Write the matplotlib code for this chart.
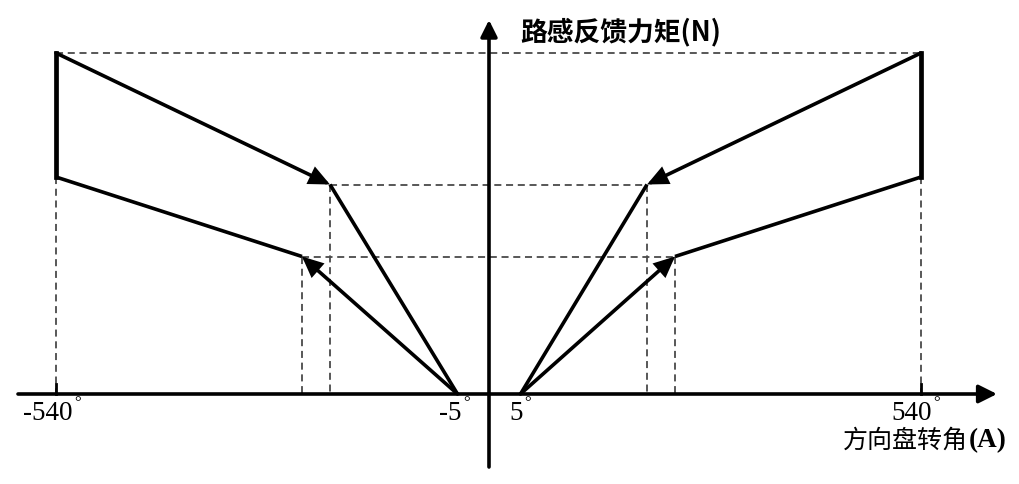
import matplotlib
matplotlib.use("Agg")
import matplotlib.pyplot as plt

# ---- schematic data (units: chart units measured from the origin) ----
tick_pos = [-433, -31.5, 31.5, 432]
tick_labels = ["-540", "-5", "5", "540"]

left_upper_x = [-433, -159, -31.5]
left_upper_y = [341, 209.5, 0]
left_lower_x = [-433, -187, -31.5]
left_lower_y = [217, 137.5, 0]

right_upper_x = [432, 158, 31.5]
right_upper_y = [341, 209.5, 0]
right_lower_x = [432, 186, 31.5]
right_lower_y = [217, 137.5, 0]

y_title = "路感反馈力矩(N)"
x_title_cjk = "方向盘转角"
x_title_unit = "(A)"

# ---- figure ----
fig = plt.figure(figsize=(10.19, 4.84), dpi=100)
ax = fig.add_axes([0, 0, 1, 1])
ax.set_xlim(-489, 530)
ax.set_ylim(-90, 394)
ax.axis("off")

LW = 2.6
DASH = dict(color="#4a4a4a", lw=1.3, linestyle=(0, (3.9, 2.6)), zorder=1)
ARROW = dict(arrowstyle="-|>,head_length=1.1,head_width=0.5", lw=LW,
             color="black", shrinkA=0, shrinkB=0, joinstyle="miter")

# axes with arrows
ax.annotate("", xy=(508, 0), xytext=(-471, 0),
            arrowprops=dict(arrowstyle="-|>,head_length=1.1,head_width=0.55",
                            lw=LW, color="black", shrinkA=0, shrinkB=0))
ax.annotate("", xy=(0, 374), xytext=(0, -73),
            arrowprops=dict(arrowstyle="-|>,head_length=1.0,head_width=0.5",
                            lw=LW, color="black", shrinkA=0, shrinkB=0))

# dashed guide lines
ax.plot([left_upper_x[0], right_upper_x[0]], [left_upper_y[0], right_upper_y[0]], **DASH)
ax.plot([left_upper_x[1], right_upper_x[1]], [left_upper_y[1], right_upper_y[1]], **DASH)
ax.plot([left_lower_x[1], right_lower_x[1]], [left_lower_y[1], right_lower_y[1]], **DASH)
for xs, ys in [(left_upper_x, left_upper_y), (left_lower_x, left_lower_y),
               (right_upper_x, right_upper_y), (right_lower_x, right_lower_y)]:
    ax.plot([xs[1], xs[1]], [ys[1], 0], **DASH)
for xs, ys in [(left_lower_x, left_lower_y), (right_lower_x, right_lower_y)]:
    ax.plot([xs[0], xs[0]], [ys[0], 0], **DASH)
    ax.plot([xs[0], xs[0]], [10, 0], color="black", lw=2.0, zorder=2)

# solid vertical ends
for ux, uy, lx, ly in [(left_upper_x, left_upper_y, left_lower_x, left_lower_y),
                       (right_upper_x, right_upper_y, right_lower_x, right_lower_y)]:
    ax.plot([ux[0], lx[0]], [uy[0], ly[0]], color="black", lw=LW + 0.8,
            solid_capstyle="projecting", zorder=3)
    # upper path: arrow into the knee, then line to dead zone
    ax.annotate("", xy=(ux[1], uy[1]), xytext=(ux[0], uy[0]), arrowprops=ARROW)
    ax.plot([ux[1], ux[2]], [uy[1], uy[2]], color="black", lw=LW,
            solid_capstyle="butt", zorder=3)
    # lower path: line from end to knee, arrow from dead zone into knee
    ax.plot([lx[0], lx[1]], [ly[0], ly[1]], color="black", lw=LW,
            solid_capstyle="butt", zorder=3)
    ax.annotate("", xy=(lx[1], ly[1]), xytext=(lx[2], ly[2]), arrowprops=ARROW)

# tick labels with degree signs
label_right = [73 - 489, 462 - 489, 523 - 489, 932 - 489]
for xr, lab in zip(label_right, tick_labels):
    ax.text(xr, 394 - 420, lab, ha="right", va="baseline",
            family="Liberation Serif", fontsize=19.5)
    ax.text(xr + 1, 394 - 395, "°", ha="left", va="top",
            family="Liberation Serif", fontsize=12)

# titles
ax.text(520 - 489, 394 - 32, y_title, ha="left", va="center",
        family=["Noto Sans CJK SC", "DejaVu Sans"], fontweight="bold",
        fontsize=19.3)
unit = ax.text(1007 - 489, 394 - 441, x_title_unit, ha="right", va="center",
               family="Liberation Serif", fontweight="bold", fontsize=19.5)
fig.canvas.draw()
bb = unit.get_window_extent(renderer=fig.canvas.get_renderer())
left_data = ax.transData.inverted().transform((bb.x0, bb.y0))[0]
ax.text(left_data - 1, 394 - 441, x_title_cjk, ha="right", va="center",
        family=["Noto Sans CJK SC", "DejaVu Sans"], fontsize=18)

fig.savefig("out.png", dpi=100, facecolor="white")
